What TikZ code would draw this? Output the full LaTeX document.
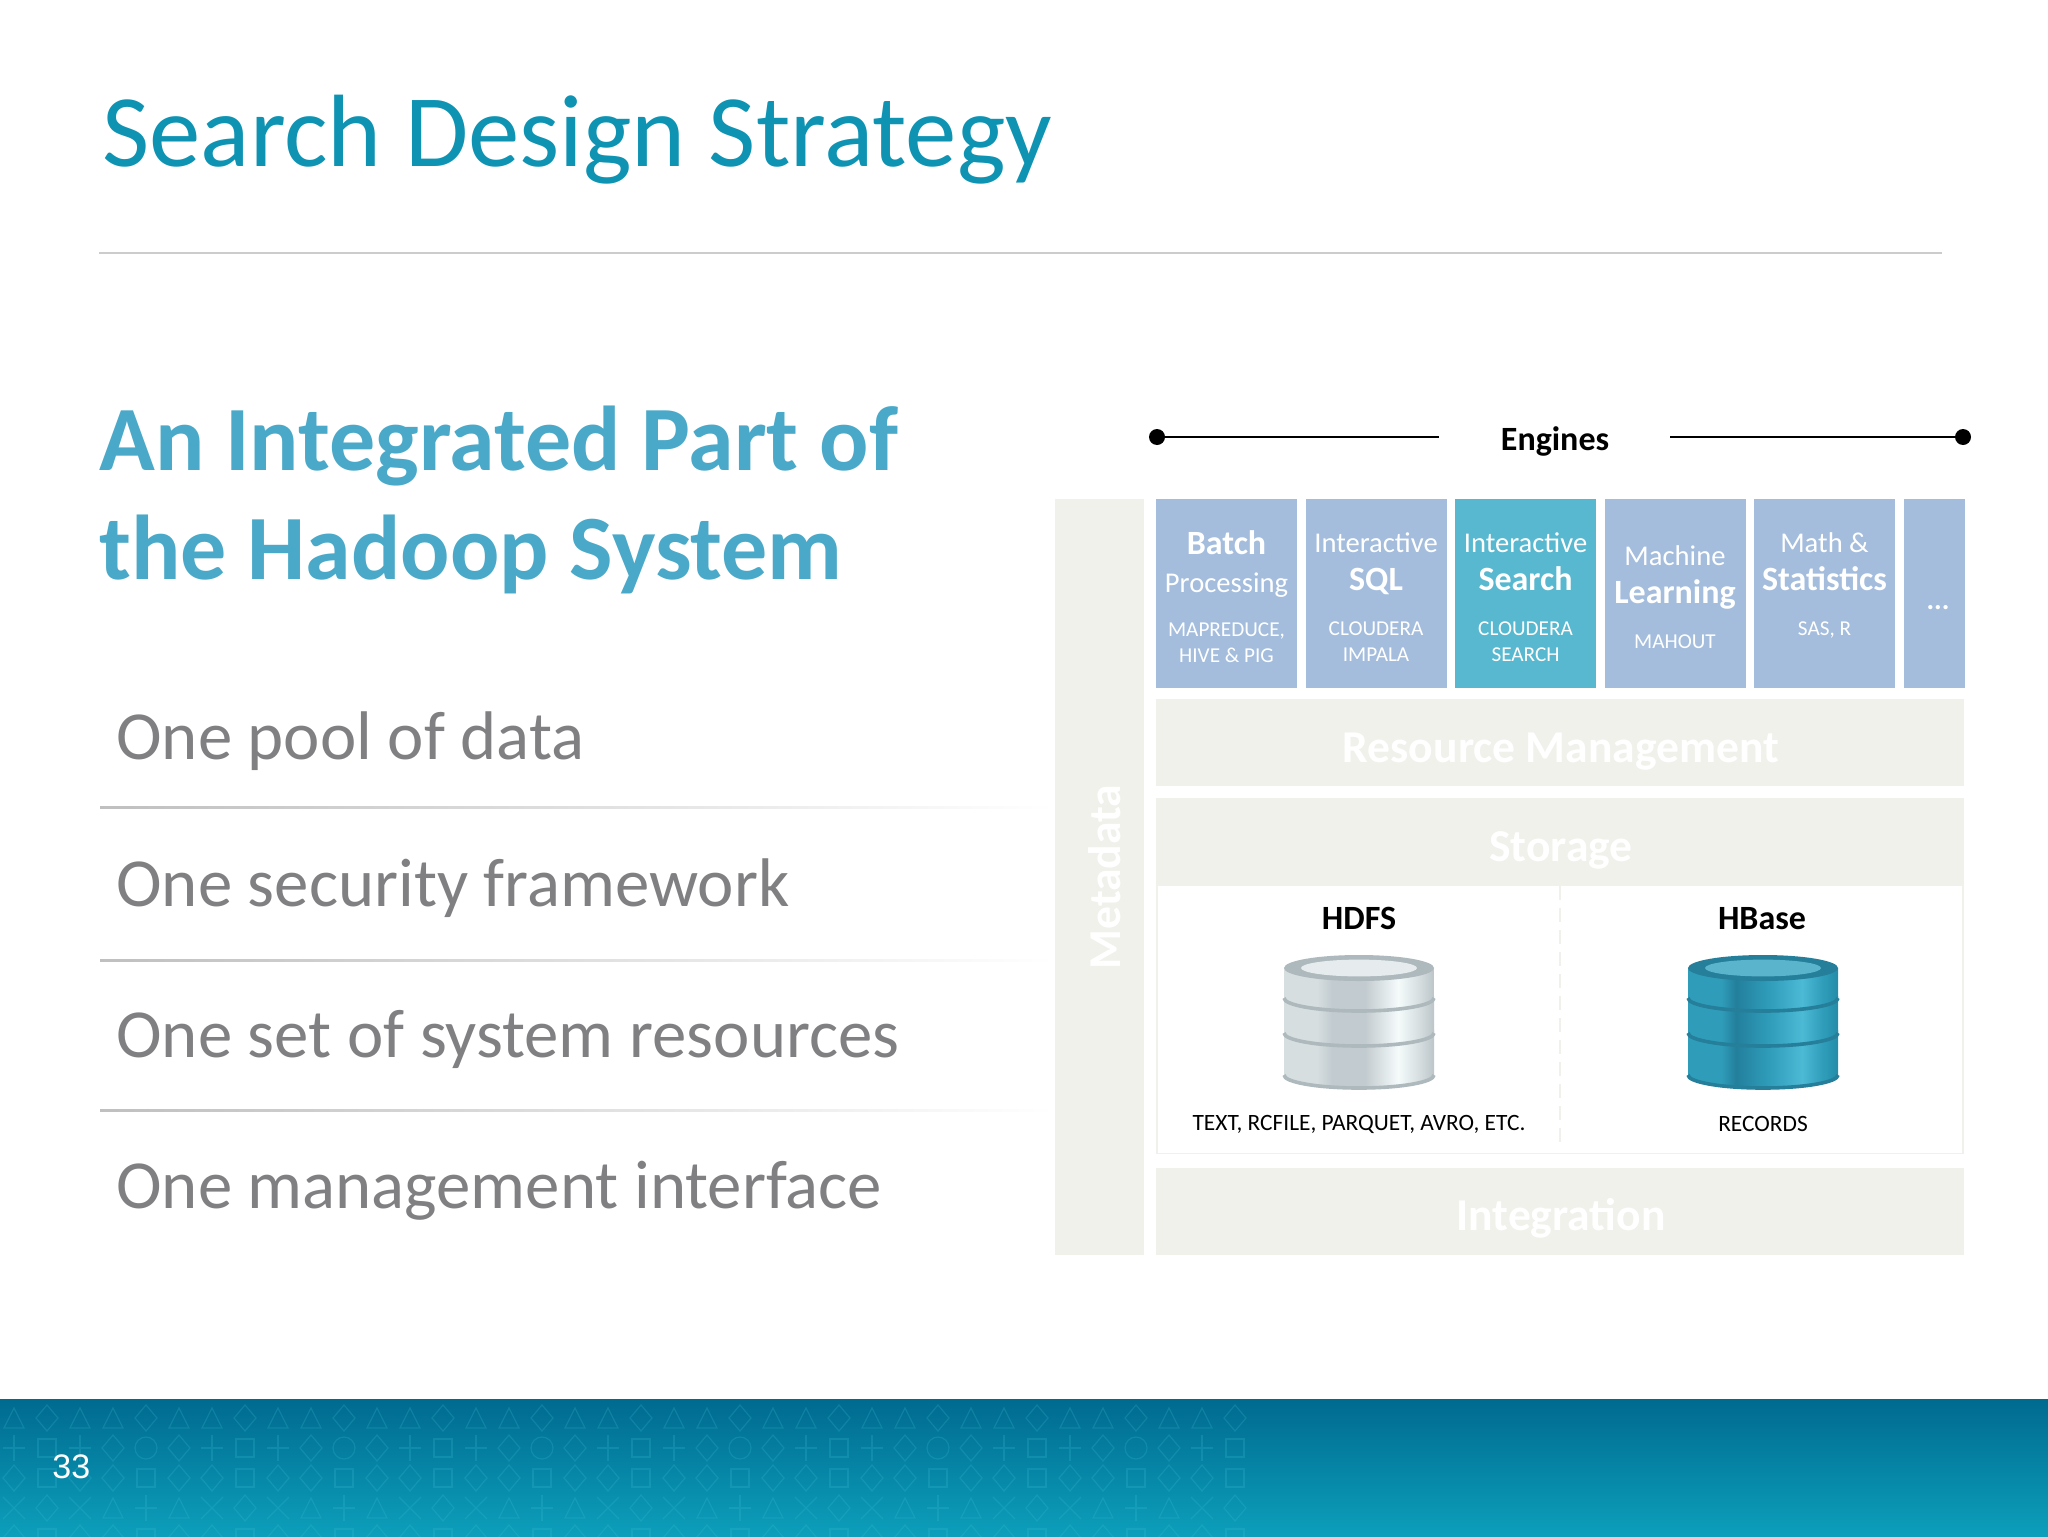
\documentclass[tikz,border=0pt]{standalone}
\usepackage{fontspec}
\usepackage{xcolor}
\usetikzlibrary{positioning}
\setmainfont{Carlito}
\newfontfamily\arialfont{Liberation Sans}
\definecolor{title-teal}{HTML}{0E93B3}
\definecolor{head-teal}{HTML}{4AA9C8}
\definecolor{item-gray}{HTML}{808083}
\definecolor{engine-blue}{HTML}{A4BDDD}
\definecolor{search-teal}{HTML}{58B8CF}
\definecolor{pale}{HTML}{F1F1EB}
\definecolor{footer-top}{HTML}{006A8F}
\definecolor{footer-bottom}{HTML}{0C9FBB}
\definecolor{footer-mark}{HTML}{3FC0D6}
\definecolor{sil-a}{HTML}{D6DEE0}
\definecolor{sil-b}{HTML}{C2CBCF}
\definecolor{sil-c}{HTML}{F5FBFB}
\definecolor{sil-d}{HTML}{BCC5C9}
\definecolor{sil-rim}{HTML}{AEB9BD}
\definecolor{sil-top}{HTML}{E6ECED}
\definecolor{tea-a}{HTML}{2F9DBA}
\definecolor{tea-b}{HTML}{237F9C}
\definecolor{tea-c}{HTML}{4CBAD5}
\definecolor{tea-d}{HTML}{248CA8}
\definecolor{tea-rim}{HTML}{257E9A}
\definecolor{tea-top}{HTML}{5AB4CC}
\pgfdeclarehorizontalshading{db-silver}{100bp}{color(0bp)=(sil-a); color(25bp)=(sil-a); color(36bp)=(sil-a); color(41bp)=(sil-b); color(52bp)=(sil-b); color(63bp)=(sil-c); color(70bp)=(sil-a); color(75bp)=(sil-d); color(100bp)=(sil-d)}
\pgfdeclarehorizontalshading{db-teal}{100bp}{color(0bp)=(tea-a); color(25bp)=(tea-a); color(36bp)=(tea-a); color(41bp)=(tea-b); color(52bp)=(tea-a); color(63bp)=(tea-c); color(70bp)=(tea-a); color(75bp)=(tea-d); color(100bp)=(tea-d)}
\newcommand\fpx[2]{\fontsize{#1}{#2}\selectfont}
\newcommand\engsmall{\fpx{10.6}{19}}
\newcommand\engbold{\fpx{17}{19}\bfseries}
\newcommand\dbstack[4]{
  \foreach \ytop/\ybot in {1030/1075, 996/1033, 968/998}{
    \path[shading=#2] (#1-75,\ytop) -- (#1-75,\ybot) arc[start angle=180, end angle=360, x radius=37.5pt, y radius=6.5pt] -- (#1+75,\ytop) -- cycle;
    \draw[#3, line width=1.8pt] (#1-75,\ybot) arc[start angle=180, end angle=360, x radius=37.5pt, y radius=6.5pt];
  }
  \fill[#3] (#1,968) ellipse[x radius=37.5pt, y radius=6.5pt];
  \fill[#4] (#1,968) ellipse[x radius=29pt, y radius=4.2pt];
}
\tikzset{
    engine-box/.style = {fill=engine-blue, inner sep=0pt, outer sep=0pt, minimum width=70.5pt, minimum height=94.5pt},
    engine-text/.style = {text=white, inner sep=0pt, align=center, font=\fpx{14.3}{19}},
    layer-box/.style = {fill=pale, inner sep=0pt, outer sep=0pt, minimum width=404pt},
    layer-title/.style = {text=white, inner sep=0pt, font=\fpx{22.8}{26}\bfseries},
    list-item/.style = {text=item-gray, inner sep=0pt, anchor=base west, font=\fpx{34.4}{40}},
    list-rule/.style = {left color=black!25, middle color=black!20, right color=white},
    engine-dot/.style = {circle, fill=black, inner sep=0pt, minimum size=8pt},
    engine-line/.style = {line width=1.3pt},
    store-title/.style = {inner sep=0pt, font=\fpx{17}{20}\bfseries},
    store-note/.style = {inner sep=0pt, font=\fpx{11.7}{14}},
}
\begin{document}
\begin{tikzpicture}[x=0.5pt, y=-0.5pt]
\useasboundingbox (0,0) rectangle (2048,1536);

\node[text=title-teal, anchor=base west, inner sep=0pt, font=\fpx{51.4}{58}] (title) at (102,166) {Search Design Strategy};
\draw[black!20, line width=0.7pt] (99,253) -- (1942,253);

\node[text=head-teal, anchor=base west, inner sep=0pt, font=\fpx{46}{54.2}\bfseries, align=left] (head) at (99,579) {An Integrated Part of\\the Hadoop System};

\node[list-item] (pool) at (116,759) {One pool of data};
\node[list-item] (security) at (116,906) {One security framework};
\node[list-item] (resources) at (116,1057) {One set of system resources};
\node[list-item] (management) at (116,1208) {One management interface};
\shade[list-rule] (100,806.5) rectangle (1055,808.5);
\shade[list-rule] (100,959.5) rectangle (1055,961.5);
\shade[list-rule] (100,1109.5) rectangle (1055,1111.5);

\node[fill=pale, inner sep=0pt, minimum width=44.5pt, minimum height=378pt] (metadata) at (1099.5,877) {};
\node[layer-title, rotate=90] (metatitle) at (1105,877) {Metadata};

\node[engine-box] (batch) at (1226.5,593.5) {};
\node[engine-box, right=4.25pt of batch] (sql) {};
\node[engine-box, right=4.25pt of sql, fill=search-teal] (search) {};
\node[engine-box, right=4.25pt of search] (machine) {};
\node[engine-box, right=4.25pt of machine] (math) {};
\node[engine-box, right=4.25pt of math, minimum width=30.5pt] (more) {};

\node[engine-text, yshift=-1.5pt] at (batch) {{\engbold Batch}\\Processing\\[3pt]{\engsmall MAPREDUCE,}\\[-6pt]{\engsmall HIVE \& PIG}};
\node[engine-text, yshift=-2pt] at (sql) {Interactive\\{\engbold SQL}\\[3.5pt]{\engsmall CLOUDERA}\\[-6pt]{\engsmall IMPALA}};
\node[engine-text, yshift=-2pt] at (search) {Interactive\\{\engbold Search}\\[3.5pt]{\engsmall CLOUDERA}\\[-6pt]{\engsmall SEARCH}};
\node[engine-text, yshift=-2pt] at (machine) {Machine\\{\engbold Learning}\\[3.5pt]{\engsmall MAHOUT}};
\node[engine-text, yshift=4pt] at (math) {Math \&\\{\engbold Statistics}\\[3.5pt]{\engsmall SAS, R}};
\node[engine-text, yshift=-7pt, xshift=2pt] at (more) {\textbf{...}};

\node[engine-dot] (dotleft) at (1157,437) {};
\node[engine-dot] (dotright) at (1963,437) {};
\coordinate (lineleft) at (1439,437);
\coordinate (lineright) at (1670,437);
\draw[engine-line] (dotleft) -- (lineleft);
\draw[engine-line] (lineright) -- (dotright);
\node[store-title] (engines) at (1555,441.5) {Engines};

\node[layer-box, minimum height=43.5pt] (resource) at (1560,742.5) {};
\node[layer-title] at (1561,751.5) {Resource Management};
\node[layer-box, minimum height=43.5pt] (storage) at (1560,841.5) {};
\node[layer-title] at (1561,850) {Storage};
\node[layer-box, minimum height=43.5pt] (integration) at (1560,1211.5) {};
\node[layer-title] at (1561,1218.5) {Integration};

\node[draw=pale, fill=white, line width=0.8pt, inner sep=0pt, minimum width=403pt, minimum height=134pt] (panel) at (1560,1019.5) {};
\coordinate (splittop) at (1560,886);
\coordinate (splitbottom) at (1560,1142);
\draw[pale, line width=1pt, dash pattern=on 7pt off 4pt] (splittop) -- (splitbottom);

\node[store-title] (hdfs) at (1359,918.5) {HDFS};
\node[store-title] (hbase) at (1762,919) {HBase};
\dbstack{1359}{db-silver}{sil-rim}{sil-top}
\dbstack{1763}{db-teal}{tea-rim}{tea-top}
\node[store-note] (hdfsnote) at (1359,1124) {TEXT, RCFILE, PARQUET, AVRO, ETC.};
\node[store-note] (hbasenote) at (1763,1123.5) {RECORDS};

\shade[top color=footer-top, bottom color=footer-bottom] (0,1399) rectangle (2048,1536);
\begin{scope}
\clip (0,1399) rectangle (1250,1536);
\foreach \col in {0,...,37}{
  \foreach \row in {0,...,4}{
    \pgfmathtruncatemacro\kind{mod(\col*\col*7+\row*\row*5+\col*\row*3+\col,6)}
    \begin{scope}[shift={(14+\col*33,1418+\row*30)}, draw=footer-mark, opacity=0.22, line width=0.6pt]
      \ifcase\kind
        \draw (-10,10) -- (0,-10) -- (10,10) -- cycle;
      \or
        \draw (0,0) circle[radius=5.5pt];
      \or
        \draw (-11,0) -- (0,-13) -- (11,0) -- (0,13) -- cycle;
      \or
        \draw (-11,-11) -- (11,11) (-11,11) -- (11,-11);
      \or
        \draw (-9,-9) rectangle (9,9);
      \or
        \draw (-11,0) -- (11,0) (0,-13) -- (0,13);
      \fi
    \end{scope}
  }
}
\end{scope}
\node[text=white, anchor=base west, inner sep=0pt, font=\arialfont\fpx{17}{22}] (pagenum) at (52,1478) {33};
\end{tikzpicture}
\end{document}
